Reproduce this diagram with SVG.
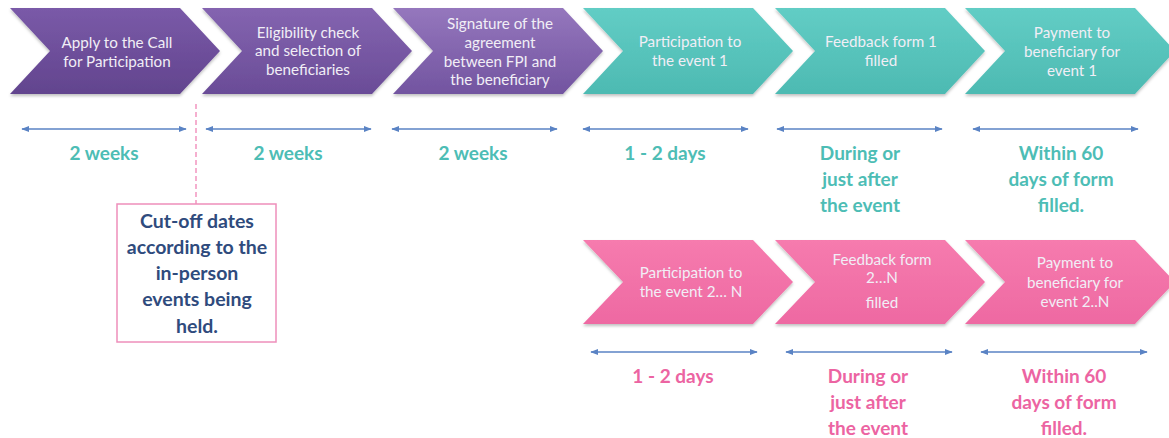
<svg xmlns="http://www.w3.org/2000/svg" width="1169" height="438" viewBox="0 0 1169 438">
<style>
.ct{font-family:Lato,"Open Sans","Liberation Sans",sans-serif;font-size:15.2px;fill:#f1eef6;text-anchor:middle}
.lt{font-family:Lato,"Open Sans","Liberation Sans",sans-serif;font-size:19px;font-weight:bold;fill:#4dbdb5;text-anchor:middle}
.lp{font-family:Lato,"Open Sans","Liberation Sans",sans-serif;font-size:19px;font-weight:bold;fill:#ec64a2;text-anchor:middle}
.bx{font-family:Lato,"Open Sans","Liberation Sans",sans-serif;font-size:19.5px;font-weight:bold;fill:#2f4b7d;text-anchor:middle}
.dur{stroke:#5a83c4;stroke-width:1.3;fill:none;marker-start:url(#ah);marker-end:url(#ah)}
</style>
<defs>
<linearGradient id="p1" x1="0" y1="0" x2="0" y2="1"><stop offset="0" stop-color="#7a5aa8"/><stop offset="1" stop-color="#62448e"/></linearGradient>
<linearGradient id="p2" x1="0" y1="0" x2="0" y2="1"><stop offset="0" stop-color="#8464b0"/><stop offset="1" stop-color="#6a4c97"/></linearGradient>
<linearGradient id="p3" x1="0" y1="0" x2="0" y2="1"><stop offset="0" stop-color="#9577bd"/><stop offset="1" stop-color="#7254a0"/></linearGradient>
<linearGradient id="tg" x1="0" y1="0" x2="0" y2="1"><stop offset="0" stop-color="#62cdc5"/><stop offset="1" stop-color="#4dbab2"/></linearGradient>
<linearGradient id="pg" x1="0" y1="0" x2="0" y2="1"><stop offset="0" stop-color="#f67bae"/><stop offset="1" stop-color="#ee69a2"/></linearGradient>
<filter id="sh" x="-5%" y="-10%" width="110%" height="125%"><feDropShadow dx="0" dy="2" stdDeviation="1.5" flood-color="#000" flood-opacity="0.25"/></filter>
<marker id="ah" viewBox="0 0 10 10" refX="9" refY="5" markerWidth="6" markerHeight="6" orient="auto-start-reverse"><path d="M0,1 L10,5 L0,9 z" fill="#5a83c4"/></marker>
<path id="chev" d="M0,0 H170 L210,43 L170,86 H0 L40,43 Z"/>
<path id="chevb" d="M0,0 H170 L210,42 L170,84 H0 L40,42 Z"/>
</defs>

<g id="connectors">
<line x1="196" y1="104" x2="196" y2="204" stroke="#ee7bb0" stroke-width="1.2" stroke-dasharray="5,3"/>
<line class="dur" x1="22" y1="129" x2="186" y2="129"/>
<line class="dur" x1="206" y1="129" x2="371" y2="129"/>
<line class="dur" x1="392" y1="129" x2="557" y2="129"/>
<line class="dur" x1="583" y1="129" x2="748" y2="129"/>
<line class="dur" x1="777" y1="129" x2="942" y2="129"/>
<line class="dur" x1="973" y1="129" x2="1138" y2="129"/>
<line class="dur" x1="591" y1="352" x2="757" y2="352"/>
<line class="dur" x1="786" y1="352" x2="952" y2="352"/>
<line class="dur" x1="981" y1="352" x2="1147" y2="352"/>
</g>

<g id="n1"><use href="#chev" x="10" y="8" fill="url(#p1)" filter="url(#sh)"/>
<text class="ct"><tspan x="117" y="48">Apply to the Call</tspan><tspan x="117" y="67">for Participation</tspan></text></g>
<g id="n2"><use href="#chev" x="202" y="8" fill="url(#p2)" filter="url(#sh)"/>
<text class="ct"><tspan x="308" y="38">Eligibility check</tspan><tspan x="308" y="56">and selection of</tspan><tspan x="308" y="75">beneficiaries</tspan></text></g>
<g id="n3"><use href="#chev" x="393" y="8" fill="url(#p3)" filter="url(#sh)"/>
<text class="ct"><tspan x="500" y="29">Signature of the</tspan><tspan x="500" y="48">agreement</tspan><tspan x="500" y="67">between FPI and</tspan><tspan x="500" y="85">the beneficiary</tspan></text></g>
<g id="n4"><use href="#chev" x="583" y="8" fill="url(#tg)" filter="url(#sh)"/>
<text class="ct"><tspan x="690" y="47">Participation to</tspan><tspan x="690" y="66">the event 1</tspan></text></g>
<g id="n5"><use href="#chev" x="775" y="8" fill="url(#tg)" filter="url(#sh)"/>
<text class="ct"><tspan x="881" y="47">Feedback form 1</tspan><tspan x="881" y="66">filled</tspan></text></g>
<g id="n6"><use href="#chev" x="965" y="8" fill="url(#tg)" filter="url(#sh)"/>
<text class="ct"><tspan x="1072" y="38">Payment to</tspan><tspan x="1072" y="57">beneficiary for</tspan><tspan x="1072" y="76">event 1</tspan></text></g>

<g id="n7"><use href="#chevb" x="583" y="240" fill="url(#pg)" filter="url(#sh)"/>
<text class="ct"><tspan x="691" y="278">Participation to</tspan><tspan x="691" y="297">the event 2… N</tspan></text></g>
<g id="n8"><use href="#chevb" x="775" y="240" fill="url(#pg)" filter="url(#sh)"/>
<text class="ct"><tspan x="882" y="265">Feedback form</tspan><tspan x="882" y="283">2…N</tspan><tspan x="882" y="308">filled</tspan></text></g>
<g id="n9"><use href="#chevb" x="965" y="240" fill="url(#pg)" filter="url(#sh)"/>
<text class="ct"><tspan x="1075" y="268">Payment to</tspan><tspan x="1075" y="288">beneficiary for</tspan><tspan x="1075" y="307">event 2..N</tspan></text></g>

<g id="d1"><text class="lt" x="104" y="160">2 weeks</text></g>
<g id="d2"><text class="lt" x="288" y="160">2 weeks</text></g>
<g id="d3"><text class="lt" x="473" y="160">2 weeks</text></g>
<g id="d4"><text class="lt" x="665" y="160">1 - 2 days</text></g>
<g id="d5"><text class="lt"><tspan x="860" y="160">During or</tspan><tspan x="860" y="186">just after</tspan><tspan x="860" y="212">the event</tspan></text></g>
<g id="d6"><text class="lt"><tspan x="1061" y="160">Within 60</tspan><tspan x="1061" y="186">days of form</tspan><tspan x="1061" y="212">filled.</tspan></text></g>

<g id="d7"><text class="lp" x="673" y="383">1 - 2 days</text></g>
<g id="d8"><text class="lp"><tspan x="868" y="383">During or</tspan><tspan x="868" y="409">just after</tspan><tspan x="868" y="435">the event</tspan></text></g>
<g id="d9"><text class="lp"><tspan x="1064" y="383">Within 60</tspan><tspan x="1064" y="409">days of form</tspan><tspan x="1064" y="435">filled.</tspan></text></g>

<g id="cutoff">
<rect x="117" y="204" width="159" height="138" fill="#fff" stroke="#ee8fbb" stroke-width="1.5"/>
<text class="bx"><tspan x="197" y="228">Cut-off dates</tspan><tspan x="197" y="254">according to the</tspan><tspan x="197" y="280">in-person</tspan><tspan x="197" y="306">events being</tspan><tspan x="197" y="333">held.</tspan></text>
</g>
</svg>
